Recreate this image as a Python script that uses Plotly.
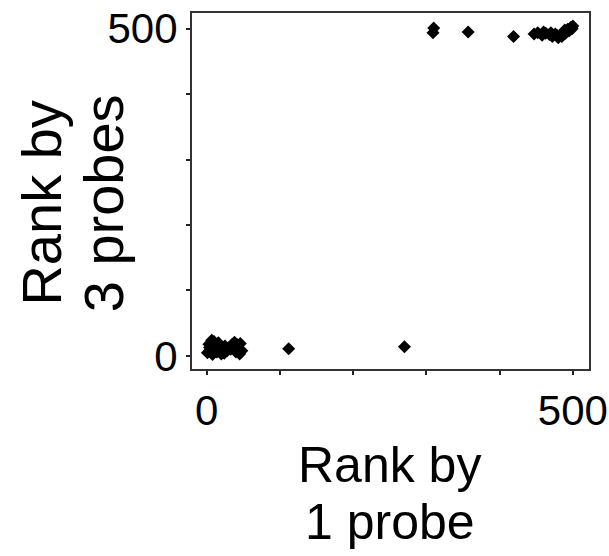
import plotly.graph_objects as go

# Rank by 1 probe (x) vs rank by 3 probes (y)
low_x = [1, 3, 5, 8, 10, 12, 14, 16, 18, 20, 22, 25, 28, 30, 33, 36, 38, 40, 42, 44, 46, 48, 4, 15, 45, 7, 24, 35, 112, 270]
low_y = [5, 18, 10, 2, 22, 14, 6, 20, 12, 3, 9, 15, 8, 12, 10, 14, 21, 6, 17, 11, 19, 8, 13, 16, 3, 24, 4, 18, 11, 14]
high_x = [309, 310, 357, 419, 447, 452, 458, 463, 468, 472, 476, 480, 484, 487, 490, 493, 495, 497, 499, 500, 485, 478, 470, 460, 489]
high_y = [494, 501, 495, 488, 492, 494, 490, 493, 491, 488, 492, 486, 490, 495, 493, 499, 497, 502, 500, 504, 488, 490, 494, 495, 498]

tick_vals = [0, 100, 200, 300, 400, 500]
tick_text = ["0", "", "", "", "", "500"]
x_title_lines = ["Rank by", "1 probe"]
y_title_lines = ["Rank by", "3 probes"]

FONT = "Liberation Sans, Arial"

fig = go.Figure()
fig.add_trace(go.Scatter(
    x=low_x + high_x, y=low_y + high_y, mode="markers",
    marker=dict(symbol="diamond", size=10, color="black", line=dict(width=0)),
    showlegend=False, cliponaxis=False,
))

axis_common = dict(
    tickvals=tick_vals, ticktext=tick_text,
    ticks="outside", ticklen=4, tickwidth=1.5, tickcolor="#222",
    showline=True, linecolor="#333", linewidth=2, mirror=True,
    showgrid=False, zeroline=False, automargin=False,
    tickfont=dict(family=FONT, size=42, color="black"),
)

annotations = []
for text, yp in zip(x_title_lines, [-0.27, -0.43]):
    annotations.append(dict(text=text, xref="paper", yref="paper", x=0.4987, y=yp,
                            xanchor="center", yanchor="middle", showarrow=False,
                            font=dict(family=FONT, size=50, color="black")))
for text, xp in zip(y_title_lines, [-0.38, -0.222]):
    annotations.append(dict(text=text, xref="paper", yref="paper", x=xp, y=0.465,
                            xanchor="center", yanchor="middle", showarrow=False, textangle=-90,
                            font=dict(family=FONT, size=56, color="black")))

fig.update_layout(
    width=609, height=556,
    margin=dict(l=192, r=20, t=13, b=187, autoexpand=False),
    plot_bgcolor="white", paper_bgcolor="white",
    xaxis=dict(range=[-20, 522], **axis_common),
    yaxis=dict(range=[-20, 524], **axis_common),
    annotations=annotations,
)

fig.write_html("out.html")
